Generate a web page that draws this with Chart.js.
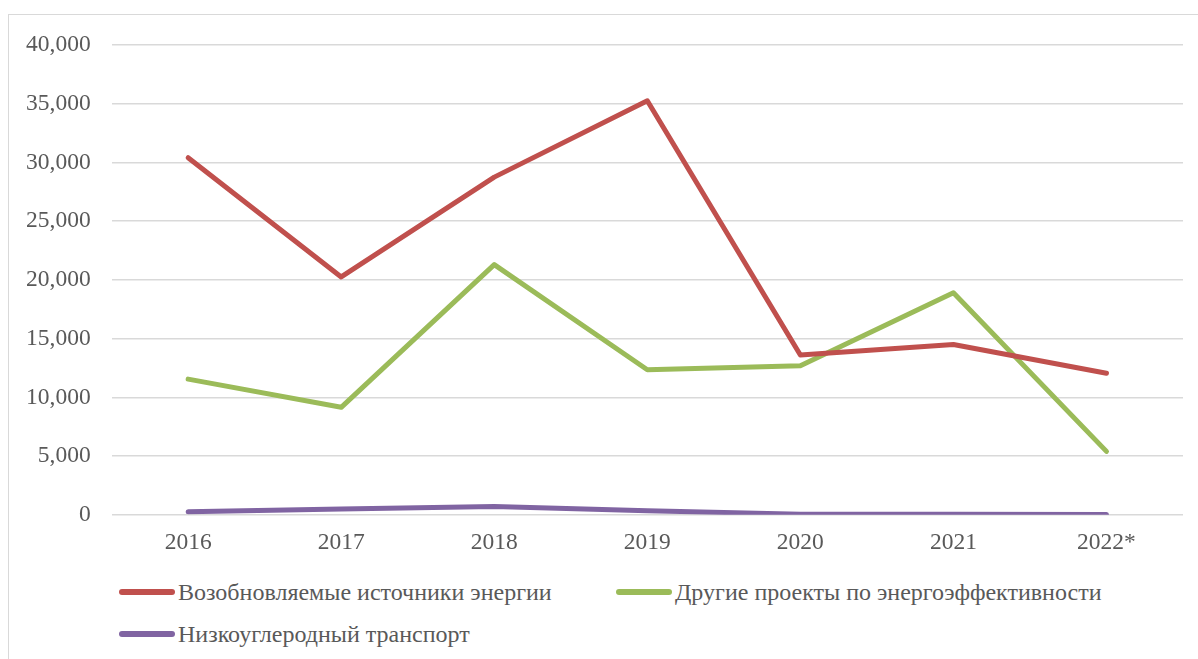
<!DOCTYPE html>
<html lang="ru">
  <head>
    <meta charset="UTF-8" />
    <title>Инвестиции по направлениям</title>
    <script src="https://cdn.jsdelivr.net/npm/chart.js@4.4.0/dist/chart.umd.min.js"></script>
    <style>
      body { margin: 0; background: #fff; overflow: hidden; }
      #frame { position: absolute; left: 8px; top: 14px; width: 1400px; height: 800px;
               border: 1.5px solid #d9d9d9; }
      #wrap { position: absolute; left: 0; top: 0; width: 1198px; height: 568px; }
      #legend { position: absolute; left: 0; top: 0; font-family: "Liberation Serif", "Times New Roman", serif;
                font-size: 24px; color: #595959; }
      .item { position: absolute; white-space: nowrap; display: flex; align-items: center; height: 28px; }
      .item i { display: inline-block; width: 56px; height: 6px; border-radius: 3px; margin-right: 3px; }
    </style>
  </head>
  <body>
    <div id="frame"></div>
    <div id="wrap"><canvas id="myChart"></canvas></div>
    <div id="legend"></div>

    <script>
      // данные
      const years = ['2016', '2017', '2018', '2019', '2020', '2021', '2022*'];
      const renewables = [30400, 20250, 28750, 35250, 13600, 14500, 12050];
      const efficiency = [11550, 9150, 21300, 12350, 12700, 18900, 5400];
      const transport = [250, 500, 700, 350, 50, 50, 20];
      const yTicks = [0, 5000, 10000, 15000, 20000, 25000, 30000, 35000, 40000];

      const names = ['Возобновляемые источники энергии', 'Другие проекты по энергоэффективности', 'Низкоуглеродный транспорт'];
      const colors = ['#C0504D', '#9BBB59', '#8064A2'];
      const series = [renewables, efficiency, transport];

      const font = { family: '"Liberation Serif", "Times New Roman", serif', size: 23.5 };
      Chart.defaults.color = '#595959';

      const ctx = document.getElementById('myChart').getContext('2d');
      const myChart = new Chart(ctx, {
        type: 'line',
        data: {
          labels: years,
          datasets: series.map((d, i) => ({
            label: names[i],
            data: d,
            borderColor: colors[i],
            backgroundColor: colors[i],
            borderWidth: 5,
            pointRadius: 0,
            tension: 0,
            fill: false,
            borderCapStyle: 'round',
            borderJoinStyle: 'round'
          }))
        },
        options: {
          responsive: true,
          maintainAspectRatio: false,
          animation: false,
          layout: { padding: { left: 5, right: 15, top: 45, bottom: 5 } },
          plugins: { legend: { display: false }, tooltip: { enabled: false } },
          scales: {
            x: {
              offset: true,
              grid: { display: false },
              border: { display: false },
              ticks: { font: font, padding: 6 }
            },
            y: {
              min: 0,
              max: 40000,
              afterBuildTicks: axis => { axis.ticks = yTicks.map(v => ({ value: v })); },
              grid: { color: '#d9d9d9', lineWidth: 1.5, drawTicks: false },
              border: { display: false },
              ticks: {
                font: font,
                padding: 21,
                callback: v => v.toLocaleString('en-US')
              }
            }
          }
        }
      });

      // легенда как в исходной диаграмме (две колонки)
      const legendPos = [[119, 578], [616, 578], [119, 620]];
      const legend = document.getElementById('legend');
      myChart.data.datasets.forEach((ds, i) => {
        const el = document.createElement('div');
        el.className = 'item';
        el.style.left = legendPos[i][0] + 'px';
        el.style.top = legendPos[i][1] + 'px';
        el.innerHTML = '<i style="background:' + ds.borderColor + '"></i>' + ds.label;
        legend.appendChild(el);
      });
    </script>
  </body>
</html>
